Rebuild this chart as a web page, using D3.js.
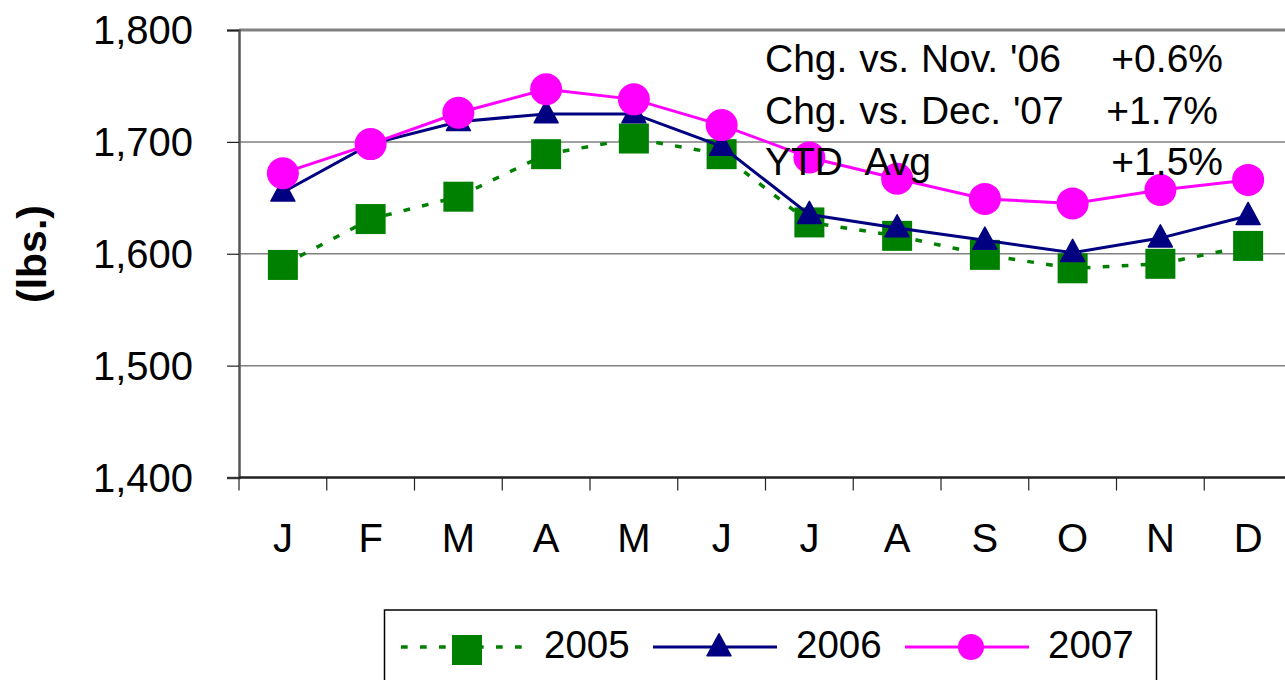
<!DOCTYPE html>
<html>
<head>
<meta charset="utf-8">
<script src="https://cdn.jsdelivr.net/npm/d3@7"></script>
<style>
  html, body { margin: 0; padding: 0; background: #fff; }
  svg { display: block; font-family: "Liberation Sans", Arial, sans-serif; }
</style>
</head>
<body>
<div id="chart"></div>
<script>
// month labels along the x axis
const months = ['J', 'F', 'M', 'A', 'M', 'J', 'J', 'A', 'S', 'O', 'N', 'D'];

// monthly values (lbs.)
const v2005 = [1590, 1631, 1651, 1689, 1703, 1689, 1628, 1616, 1599, 1587, 1591, 1607];
const v2006 = [1655, 1698, 1718, 1725, 1725, 1696, 1635, 1623, 1612, 1601, 1614, 1634];
const v2007 = [1672, 1698, 1726, 1747, 1738, 1715, 1686, 1667, 1649, 1645, 1657, 1666];

const yTicks = [1400, 1500, 1600, 1700, 1800];

// annotation box text
const noteLabels = ["Chg. vs. Nov. '06", "Chg. vs. Dec. '07", 'YTD  Avg'];
const noteValues = ['+0.6%', '+1.7%', '+1.5%'];

const series = [
  { name: '2005', values: v2005, color: '#008000', marker: 'square', dash: '6.7,12.3' },
  { name: '2006', values: v2006, color: '#000080', marker: 'triangle', dash: null },
  { name: '2007', values: v2007, color: '#ff00ff', marker: 'circle', dash: null }
];

const W = 1285, H = 680;
const plot = { left: 239, right: 1292, top: 30, bottom: 477.5 };

const svg = d3.select('#chart').append('svg')
  .attr('width', W).attr('height', H);

const x = d3.scaleBand().domain(d3.range(months.length))
  .range([plot.left, plot.right]).padding(0);
const cx = i => x(i) + x.bandwidth() / 2;
const y = d3.scaleLinear().domain([1400, 1800]).range([plot.bottom, plot.top]);

// gridlines
svg.append('g').selectAll('line')
  .data(yTicks.filter(t => t > 1400 && t < 1800)).join('line')
  .attr('x1', plot.left).attr('x2', plot.right)
  .attr('y1', d => y(d)).attr('y2', d => y(d))
  .attr('stroke', '#808080').attr('stroke-width', 1.5);

// top border
svg.append('line')
  .attr('x1', plot.left).attr('x2', plot.right)
  .attr('y1', y(1800)).attr('y2', y(1800))
  .attr('stroke', '#808080').attr('stroke-width', 3);

// y axis
const yAxis = svg.append('g')
  .attr('transform', `translate(${plot.left},0)`)
  .call(d3.axisLeft(y).tickValues(yTicks).tickSize(12).tickPadding(34)
    .tickFormat(d3.format(',')));
yAxis.select('.domain').attr('stroke', '#555').attr('stroke-width', 2.5);
yAxis.selectAll('.tick line').attr('stroke', '#222').attr('stroke-width', 1.2);
yAxis.selectAll('.tick text')
  .attr('font-size', 40).attr('fill', '#000')
  .attr('font-family', '"Liberation Sans", Arial, sans-serif')
  .attr('dy', '0.34em');

// x axis
const xg = svg.append('g').attr('transform', `translate(0,${plot.bottom})`);
xg.append('line')
  .attr('x1', plot.left).attr('x2', plot.right)
  .attr('stroke', '#222').attr('stroke-width', 2.5);
xg.selectAll('.xt').data(d3.range(months.length + 1)).join('line')
  .attr('class', 'xt')
  .attr('x1', i => plot.left + i * x.bandwidth())
  .attr('x2', i => plot.left + i * x.bandwidth())
  .attr('y1', 0).attr('y2', 13)
  .attr('stroke', '#222').attr('stroke-width', 1.2);
xg.selectAll('.xl').data(months).join('text')
  .attr('class', 'xl')
  .attr('x', (d, i) => cx(i)).attr('y', 74)
  .attr('text-anchor', 'middle')
  .attr('font-size', 40)
  .text(d => d);

// y title
svg.append('text')
  .attr('transform', 'translate(46,254) rotate(-90)')
  .attr('text-anchor', 'middle')
  .attr('font-size', 41).attr('font-weight', 'bold')
  .text('(lbs.)');

function drawMarker(sel, type, color, size) {
  if (type === 'square') {
    sel.append('rect')
      .attr('x', -size / 2).attr('y', -size / 2)
      .attr('width', size).attr('height', size)
      .attr('fill', color);
  } else if (type === 'triangle') {
    const w = size, h = size * 0.92;
    sel.append('path')
      .attr('d', `M0,${-h * 0.6}L${w / 2},${h * 0.4}L${-w / 2},${h * 0.4}Z`)
      .attr('fill', color).attr('stroke', color).attr('stroke-width', 1.5)
      .attr('stroke-linejoin', 'round');
  } else {
    sel.append('circle').attr('r', size / 2).attr('fill', color);
  }
}

const markerSize = { square: 30, triangle: 24, circle: 32 };
const line = d3.line().x((d, i) => cx(i)).y(d => y(d));

series.forEach(s => {
  const g = svg.append('g');
  g.append('path')
    .attr('d', line(s.values))
    .attr('fill', 'none')
    .attr('stroke', s.color)
    .attr('stroke-width', s.dash ? 3.5 : 3)
    .attr('stroke-dasharray', s.dash);
  g.selectAll('g').data(s.values).join('g')
    .attr('transform', (d, i) => `translate(${cx(i)},${y(d)})`)
    .each(function () { drawMarker(d3.select(this), s.marker, s.color, markerSize[s.marker]); });
});

// annotation text
const notes = svg.append('g').attr('font-size', 39);
notes.selectAll('.nl').data(noteLabels).join('text')
  .attr('class', 'nl')
  .attr('x', 765).attr('y', (d, i) => 72 + i * 51.5)
  .attr('word-spacing', 1)
  .style('white-space', 'pre')
  .text(d => d);
notes.selectAll('.nv').data(noteValues).join('text')
  .attr('class', 'nv')
  .attr('x', (d, i) => i === 1 ? 1218 : 1223)
  .attr('y', (d, i) => 72 + i * 51.5)
  .attr('text-anchor', 'end')
  .text(d => d);

// legend
const lg = svg.append('g');
lg.append('rect')
  .attr('x', 384.5).attr('y', 610).attr('width', 772).attr('height', 100)
  .attr('fill', '#fff').attr('stroke', '#000').attr('stroke-width', 1.5);
const legendSize = { square: 30, triangle: 24, circle: 26 };
series.forEach((s, k) => {
  const gx = 401 + k * 252;
  const it = lg.append('g').attr('transform', `translate(${gx},647)`);
  it.append('line')
    .attr('x1', 0).attr('x2', 124)
    .attr('stroke', s.color)
    .attr('stroke-width', s.dash ? 3.5 : 3)
    .attr('stroke-dasharray', s.dash);
  const m = it.append('g').attr('transform', `translate(66,${s.marker === 'square' ? 3 : 0})`);
  drawMarker(m, s.marker, s.color, legendSize[s.marker]);
  it.append('text')
    .attr('x', 143).attr('y', 10.5)
    .attr('font-size', 38.5)
    .text(s.name);
});
</script>
</body>
</html>
